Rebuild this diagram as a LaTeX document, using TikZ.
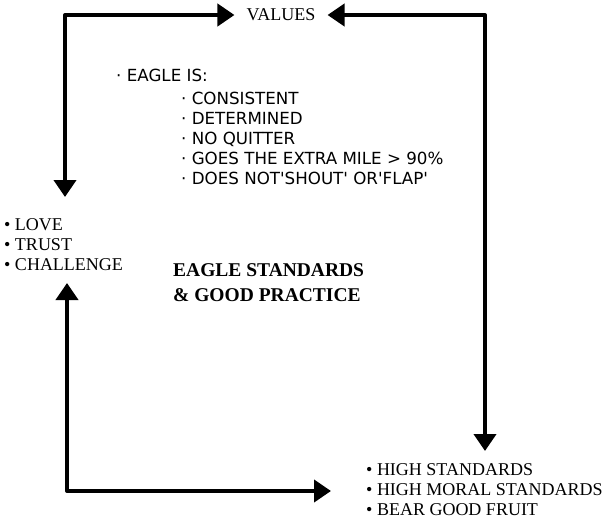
\documentclass[tikz,border=0pt]{standalone}
\usepackage{fontspec}
\setmainfont{Liberation Serif}
\newfontfamily\comic{DejaVu Sans}
\usetikzlibrary{arrows.meta}
\begin{document}
\begin{tikzpicture}[x=1pt,y=-1pt,
  arr/.style={line width=4pt,line join=round,{Triangle[length=17pt,width=22pt]}-{Triangle[length=17pt,width=22pt]}},
  serif/.style={font=\fontsize{18}{20}\selectfont,inner sep=0pt,align=left},
  comictxt/.style={font=\comic\fontsize{16.7}{20}\selectfont,inner sep=0pt,align=left},
  boldtxt/.style={font=\bfseries\fontsize{19.5}{25}\selectfont,inner sep=0pt,align=left}]
\useasboundingbox (0,0) rectangle (603,525);
\node[serif] (values) at (281,15) {VALUES};
\node[serif,anchor=north west] (left) at (4,218) {• LOVE\\• TRUST\\• CHALLENGE};
\node[serif,anchor=north west] (bottom) at (366,463) {• HIGH STANDARDS\\• HIGH MORAL STANDARDS\\• BEAR GOOD FRUIT};
\node[boldtxt,anchor=north west] (std) at (173,263) {EAGLE STANDARDS\\\& GOOD PRACTICE};
\node[comictxt,anchor=north west] (eagle) at (116,69) {· EAGLE IS:};
\node[comictxt,anchor=north west] (traits) at (181,92) {· CONSISTENT\\· DETERMINED\\· NO QUITTER\\· GOES THE EXTRA MILE > 90\%\\· DOES NOT'SHOUT' OR'FLAP'};
\coordinate (lt) at (65,197);
\coordinate (lb) at (67,283);
\coordinate (rb) at (485,451);
\coordinate (bt) at (331,491);
\draw[arr] (lt) |- ([xshift=-12pt]values.west);
\draw[arr] ([xshift=12pt]values.east) -| (rb);
\draw[arr] (lb) |- (bt);
\end{tikzpicture}
\end{document}
